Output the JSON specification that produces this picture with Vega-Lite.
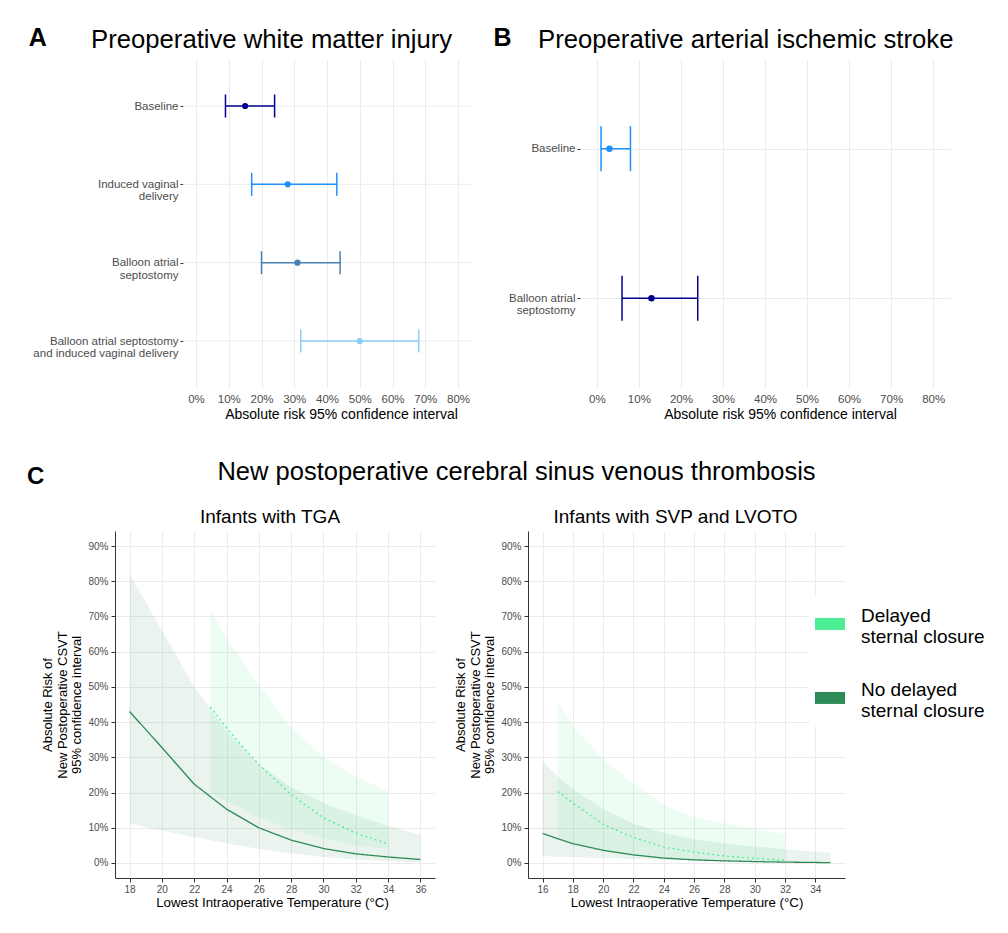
{
  "$schema": "https://vega.github.io/schema/vega-lite/v6.json",
  "background": "white",
  "padding": {"left": 26, "top": 26, "right": 5, "bottom": 5},
  "config": {
    "font": "Liberation Sans",
    "view": {"stroke": null},
    "title": {"font": "Liberation Sans", "color": "black", "fontWeight": "normal"},
    "axis": {"labelFont": "Liberation Sans", "titleFont": "Liberation Sans", "labelOverlap": false},
    "legend": {"labelFont": "Liberation Sans"}
  },
  "datasets": {
    "wmi": [
      {"cat": "Baseline", "est": 0.15, "lo": 0.09, "hi": 0.24},
      {"cat": "Induced vaginal\ndelivery", "est": 0.28, "lo": 0.17, "hi": 0.43},
      {"cat": "Balloon atrial\nseptostomy", "est": 0.31, "lo": 0.20, "hi": 0.44},
      {"cat": "Balloon atrial septostomy\nand induced vaginal delivery", "est": 0.50, "lo": 0.32, "hi": 0.68}
    ],
    "ais": [
      {"cat": "Baseline", "est": 0.03, "lo": 0.01, "hi": 0.08},
      {"cat": "Balloon atrial\nseptostomy", "est": 0.13, "lo": 0.06, "hi": 0.24}
    ],
    "csvt": [
      {"panel": "TGA", "group": "No delayed sternal closure", "temp": 18, "est": 0.43, "lo": 0.112, "hi": 0.82},
      {"panel": "TGA", "group": "No delayed sternal closure", "temp": 20, "est": 0.328, "lo": 0.092, "hi": 0.66},
      {"panel": "TGA", "group": "No delayed sternal closure", "temp": 22, "est": 0.224, "lo": 0.073, "hi": 0.50},
      {"panel": "TGA", "group": "No delayed sternal closure", "temp": 24, "est": 0.153, "lo": 0.056, "hi": 0.375},
      {"panel": "TGA", "group": "No delayed sternal closure", "temp": 26, "est": 0.10, "lo": 0.04, "hi": 0.28},
      {"panel": "TGA", "group": "No delayed sternal closure", "temp": 28, "est": 0.065, "lo": 0.027, "hi": 0.215},
      {"panel": "TGA", "group": "No delayed sternal closure", "temp": 30, "est": 0.041, "lo": 0.017, "hi": 0.17},
      {"panel": "TGA", "group": "No delayed sternal closure", "temp": 32, "est": 0.026, "lo": 0.01, "hi": 0.135},
      {"panel": "TGA", "group": "No delayed sternal closure", "temp": 34, "est": 0.017, "lo": 0.005, "hi": 0.105},
      {"panel": "TGA", "group": "No delayed sternal closure", "temp": 36, "est": 0.010, "lo": 0.002, "hi": 0.08},
      {"panel": "TGA", "group": "Delayed sternal closure", "temp": 23, "est": 0.443, "lo": 0.20, "hi": 0.717},
      {"panel": "TGA", "group": "Delayed sternal closure", "temp": 24, "est": 0.384, "lo": 0.175, "hi": 0.64},
      {"panel": "TGA", "group": "Delayed sternal closure", "temp": 25, "est": 0.33, "lo": 0.155, "hi": 0.575},
      {"panel": "TGA", "group": "Delayed sternal closure", "temp": 26, "est": 0.28, "lo": 0.13, "hi": 0.505},
      {"panel": "TGA", "group": "Delayed sternal closure", "temp": 28, "est": 0.194, "lo": 0.095, "hi": 0.385},
      {"panel": "TGA", "group": "Delayed sternal closure", "temp": 30, "est": 0.128, "lo": 0.07, "hi": 0.30},
      {"panel": "TGA", "group": "Delayed sternal closure", "temp": 32, "est": 0.085, "lo": 0.05, "hi": 0.245},
      {"panel": "TGA", "group": "Delayed sternal closure", "temp": 34, "est": 0.054, "lo": 0.04, "hi": 0.205},
      {"panel": "SVP", "group": "No delayed sternal closure", "temp": 16, "est": 0.084, "lo": 0.02, "hi": 0.29},
      {"panel": "SVP", "group": "No delayed sternal closure", "temp": 17, "est": 0.069, "lo": 0.018, "hi": 0.245},
      {"panel": "SVP", "group": "No delayed sternal closure", "temp": 18, "est": 0.055, "lo": 0.017, "hi": 0.21},
      {"panel": "SVP", "group": "No delayed sternal closure", "temp": 20, "est": 0.036, "lo": 0.014, "hi": 0.153},
      {"panel": "SVP", "group": "No delayed sternal closure", "temp": 22, "est": 0.023, "lo": 0.011, "hi": 0.112},
      {"panel": "SVP", "group": "No delayed sternal closure", "temp": 24, "est": 0.014, "lo": 0.009, "hi": 0.085},
      {"panel": "SVP", "group": "No delayed sternal closure", "temp": 26, "est": 0.009, "lo": 0.007, "hi": 0.068},
      {"panel": "SVP", "group": "No delayed sternal closure", "temp": 28, "est": 0.006, "lo": 0.005, "hi": 0.055},
      {"panel": "SVP", "group": "No delayed sternal closure", "temp": 30, "est": 0.004, "lo": 0.0035, "hi": 0.047},
      {"panel": "SVP", "group": "No delayed sternal closure", "temp": 32, "est": 0.0025, "lo": 0.0025, "hi": 0.039},
      {"panel": "SVP", "group": "No delayed sternal closure", "temp": 34, "est": 0.0015, "lo": 0.0015, "hi": 0.032},
      {"panel": "SVP", "group": "No delayed sternal closure", "temp": 35, "est": 0.001, "lo": 0.001, "hi": 0.029},
      {"panel": "SVP", "group": "Delayed sternal closure", "temp": 17, "est": 0.203, "lo": 0.07, "hi": 0.46},
      {"panel": "SVP", "group": "Delayed sternal closure", "temp": 18, "est": 0.17, "lo": 0.055, "hi": 0.39},
      {"panel": "SVP", "group": "Delayed sternal closure", "temp": 20, "est": 0.11, "lo": 0.035, "hi": 0.295},
      {"panel": "SVP", "group": "Delayed sternal closure", "temp": 22, "est": 0.072, "lo": 0.022, "hi": 0.225},
      {"panel": "SVP", "group": "Delayed sternal closure", "temp": 24, "est": 0.045, "lo": 0.013, "hi": 0.165},
      {"panel": "SVP", "group": "Delayed sternal closure", "temp": 26, "est": 0.031, "lo": 0.008, "hi": 0.13},
      {"panel": "SVP", "group": "Delayed sternal closure", "temp": 28, "est": 0.02, "lo": 0.005, "hi": 0.112},
      {"panel": "SVP", "group": "Delayed sternal closure", "temp": 30, "est": 0.013, "lo": 0.003, "hi": 0.096},
      {"panel": "SVP", "group": "Delayed sternal closure", "temp": 32, "est": 0.008, "lo": 0.002, "hi": 0.081}
    ]
  },
  "resolve": {"scale": {"color": "independent"}, "legend": {"color": "independent"}},
  "spacing": 37,
  "vconcat": [
    {
      "hconcat": [
        {
          "title": {"text": "A", "anchor": "start", "frame": "bounds", "fontSize": 25, "fontWeight": "bold", "dx": -4, "dy": 28},
          "vconcat": [
            {
              "width": 357,
              "height": 329,
              "title": {"text": "Preoperative white matter injury", "anchor": "start", "frame": "group", "dx": -24, "fontSize": 25.7, "offset": 5},
              "data": {"name": "wmi"},
              "encoding": {
                "y": {"field": "cat", "type": "nominal", "sort": null, "scale": {"type": "point", "padding": 0.6},
                  "axis": {"title": null, "grid": false, "offset": -68, "domain": false, "ticks": true, "tickSize": 3, "tickColor": "#333333", "labelColor": "#4d4d4d", "labelFontSize": 11.5, "labelPadding": 2, "labelLineHeight": 12.5, "labelExpr": "split(datum.label, '\\n')"}}
              },
              "layer": [
                {"mark": {"type": "rule", "color": "#EBEBEB", "strokeWidth": 1},
                  "encoding": {
                    "x": {"datum": -0.04, "type": "quantitative", "scale": {"domain": [-0.2473, 0.8427], "nice": false, "zero": false},
                      "axis": {"values": [0, 0.1, 0.2, 0.3, 0.4, 0.5, 0.6, 0.7, 0.8], "tickCount": 30, "format": ".0%", "grid": true, "gridColor": "#EBEBEB", "domain": false, "ticks": false, "labelColor": "#4d4d4d", "labelFontSize": 11.5, "labelPadding": 5, "title": "Absolute risk  95% confidence interval", "titleX": 226, "titleFontSize": 14, "titleFontWeight": "normal", "titleColor": "black", "titlePadding": 3}},
                    "x2": {"datum": 0.84}
                  }},
                {"mark": {"type": "rule", "strokeWidth": 1.5},
                  "encoding": {
                    "x": {"field": "lo", "type": "quantitative"},
                    "x2": {"field": "hi"},
                    "color": {"field": "cat", "type": "nominal", "legend": null,
                      "scale": {"domain": ["Baseline", "Induced vaginal\ndelivery", "Balloon atrial\nseptostomy", "Balloon atrial septostomy\nand induced vaginal delivery"], "range": ["#00008B", "#1E90FF", "#4682B4", "#87CEFA"]}}
                  }},
                {"mark": {"type": "tick", "orient": "vertical", "size": 23, "thickness": 1.5, "opacity": 1},
                  "encoding": {"x": {"field": "lo", "type": "quantitative"}, "color": {"field": "cat", "type": "nominal", "legend": null}}},
                {"mark": {"type": "tick", "orient": "vertical", "size": 23, "thickness": 1.5, "opacity": 1},
                  "encoding": {"x": {"field": "hi", "type": "quantitative"}, "color": {"field": "cat", "type": "nominal", "legend": null}}},
                {"mark": {"type": "circle", "size": 38, "opacity": 1},
                  "encoding": {"x": {"field": "est", "type": "quantitative"}, "color": {"field": "cat", "type": "nominal", "legend": null}}}
              ]
            }
          ]
        },
        {
          "title": {"text": "B", "anchor": "start", "frame": "bounds", "fontSize": 25, "fontWeight": "bold", "dx": -15, "dy": 28},
          "vconcat": [
            {
              "width": 370,
              "height": 329,
              "title": {"text": "Preoperative arterial ischemic stroke", "anchor": "start", "frame": "group", "dx": -42, "fontSize": 25.7, "offset": 5},
              "data": {"name": "ais"},
              "encoding": {
                "y": {"field": "cat", "type": "nominal", "sort": null, "scale": {"type": "point", "padding": 0.6},
                  "axis": {"title": null, "grid": true, "gridColor": "#EBEBEB", "domain": false, "ticks": true, "tickSize": 3, "tickColor": "#333333", "labelColor": "#4d4d4d", "labelFontSize": 11.5, "labelPadding": 2, "labelLineHeight": 12.5, "labelExpr": "split(datum.label, '\\n')"}},
                "color": {"field": "cat", "type": "nominal", "legend": null,
                  "scale": {"domain": ["Baseline", "Balloon atrial\nseptostomy"], "range": ["#1E90FF", "#00008B"]}}
              },
              "layer": [
                {"mark": {"type": "rule", "strokeWidth": 1.5},
                  "encoding": {
                    "x": {"field": "lo", "type": "quantitative", "scale": {"domain": [-0.04, 0.84], "nice": false, "zero": false},
                      "axis": {"values": [0, 0.1, 0.2, 0.3, 0.4, 0.5, 0.6, 0.7, 0.8], "tickCount": 30, "format": ".0%", "grid": true, "gridColor": "#EBEBEB", "domain": false, "ticks": false, "labelColor": "#4d4d4d", "labelFontSize": 11.5, "labelPadding": 5, "title": "Absolute risk  95% confidence interval", "titleX": 200, "titleFontSize": 14, "titleFontWeight": "normal", "titleColor": "black", "titlePadding": 3}},
                    "x2": {"field": "hi"}
                  }},
                {"mark": {"type": "tick", "orient": "vertical", "size": 45, "thickness": 1.5, "opacity": 1},
                  "encoding": {"x": {"field": "lo", "type": "quantitative"}}},
                {"mark": {"type": "tick", "orient": "vertical", "size": 45, "thickness": 1.5, "opacity": 1},
                  "encoding": {"x": {"field": "hi", "type": "quantitative"}}},
                {"mark": {"type": "circle", "size": 42, "opacity": 1},
                  "encoding": {"x": {"field": "est", "type": "quantitative"}}}
              ]
            }
          ]
        }
      ],
      "spacing": 21,
      "resolve": {"scale": {"color": "independent"}, "legend": {"color": "independent"}}
    },
    {
      "title": {"text": "C", "anchor": "start", "frame": "bounds", "fontSize": 24, "fontWeight": "bold", "dx": -15, "dy": 33},
      "vconcat": [
        {
          "title": {"text": "New postoperative cerebral sinus venous thrombosis", "anchor": "middle", "fontSize": 25.5, "offset": 23},
          "spacing": 19,
          "resolve": {"scale": {"fill": "independent", "stroke": "independent", "strokeDash": "independent"}, "legend": {"fill": "independent"}},
          "hconcat": [
            {
              "width": 320,
              "height": 347,
              "title": {"text": "Infants with TGA", "fontSize": 19, "anchor": "middle", "frame": "group", "offset": 4, "dx": -5},
              "data": {"name": "csvt"},
              "transform": [{"filter": "datum.panel == 'TGA'"}],
              "encoding": {
                "x": {"field": "temp", "type": "quantitative", "scale": {"domain": [17.1, 36.9], "nice": false, "zero": false},
                  "axis": {"values": [18, 20, 22, 24, 26, 28, 30, 32, 34, 36], "format": "d", "tickCount": 30, "grid": true, "gridColor": "#EBEBEB", "domain": true, "domainColor": "#333333", "tickColor": "#333333", "tickSize": 4, "labelColor": "#4d4d4d", "labelFontSize": 10, "labelPadding": 2, "title": "Lowest Intraoperative Temperature (°C)", "titleX": 157, "titleY": 24, "titleBaseline": "middle", "titleFontSize": 13.3, "titleFontWeight": "normal", "titleColor": "black"}}
              },
              "layer": [
                {"mark": {"type": "area", "fillOpacity": 0.1},
                  "encoding": {
                    "y": {"field": "lo", "type": "quantitative", "scale": {"domain": [-0.0426, 0.9426], "nice": false, "zero": false},
                      "axis": {"values": [0, 0.1, 0.2, 0.3, 0.4, 0.5, 0.6, 0.7, 0.8, 0.9], "tickCount": 30, "format": ".0%", "grid": true, "gridColor": "#EBEBEB", "domain": true, "domainColor": "#333333", "tickColor": "#333333", "tickSize": 4, "labelColor": "#4d4d4d", "labelFontSize": 10, "labelPadding": 3, "title": ["Absolute Risk of", "New Postoperative CSVT", "95% confidence interval"], "titleFontSize": 13, "titleLineHeight": 14.5, "titleFontWeight": "normal", "titleColor": "black", "titlePadding": 4}},
                    "y2": {"field": "hi"},
                    "fill": {"field": "group", "type": "nominal", "legend": null, "scale": {"domain": ["Delayed sternal closure", "No delayed sternal closure"], "range": ["#4EEE94", "#2E8B57"]}}
                  }},
                {"mark": {"type": "line", "strokeWidth": 1.3},
                  "encoding": {
                    "y": {"field": "est", "type": "quantitative"},
                    "stroke": {"field": "group", "type": "nominal", "legend": null, "scale": {"domain": ["Delayed sternal closure", "No delayed sternal closure"], "range": ["#4EEE94", "#2E8B57"]}},
                    "strokeDash": {"field": "group", "type": "nominal", "legend": null, "scale": {"domain": ["Delayed sternal closure", "No delayed sternal closure"], "range": [[2, 3], [1, 0]]}}
                  }}
              ]
            },
            {
              "width": 317,
              "height": 347,
              "title": {"text": "Infants with SVP and LVOTO", "fontSize": 19, "anchor": "middle", "frame": "group", "offset": 4, "dx": -11},
              "data": {"name": "csvt"},
              "transform": [{"filter": "datum.panel == 'SVP'"}],
              "encoding": {
                "x": {"field": "temp", "type": "quantitative", "scale": {"domain": [15.04, 35.96], "nice": false, "zero": false},
                  "axis": {"values": [16, 18, 20, 22, 24, 26, 28, 30, 32, 34], "format": "d", "tickCount": 30, "grid": true, "gridColor": "#EBEBEB", "domain": true, "domainColor": "#333333", "tickColor": "#333333", "tickSize": 4, "labelColor": "#4d4d4d", "labelFontSize": 10, "labelPadding": 2, "title": "Lowest Intraoperative Temperature (°C)", "titleY": 24, "titleBaseline": "middle", "titleFontSize": 13.3, "titleFontWeight": "normal", "titleColor": "black"}}
              },
              "layer": [
                {"mark": {"type": "area", "fillOpacity": 0.1},
                  "encoding": {
                    "y": {"field": "lo", "type": "quantitative", "scale": {"domain": [-0.0426, 0.9426], "nice": false, "zero": false},
                      "axis": {"values": [0, 0.1, 0.2, 0.3, 0.4, 0.5, 0.6, 0.7, 0.8, 0.9], "tickCount": 30, "format": ".0%", "grid": true, "gridColor": "#EBEBEB", "domain": true, "domainColor": "#333333", "tickColor": "#333333", "tickSize": 4, "labelColor": "#4d4d4d", "labelFontSize": 10, "labelPadding": 3, "title": ["Absolute Risk of", "New Postoperative CSVT", "95% confidence interval"], "titleFontSize": 13, "titleLineHeight": 14.5, "titleFontWeight": "normal", "titleColor": "black", "titlePadding": 4}},
                    "y2": {"field": "hi"},
                    "fill": {"field": "group", "type": "nominal", "scale": {"domain": ["Delayed sternal closure", "No delayed sternal closure"], "range": ["#4EEE94", "#2E8B57"]},
                      "legend": {"orient": "none", "legendX": 281, "legendY": 64, "title": null, "symbolType": "M-1,0.13H1V0.93H-1Z", "symbolSize": 900, "symbolOpacity": 1, "symbolStrokeWidth": 0, "labelFontSize": 19, "labelColor": "black", "labelLimit": 300, "labelOffset": 16, "rowPadding": 28, "padding": 6, "fillColor": "white", "labelExpr": "datum.label == 'Delayed sternal closure' ? ['Delayed', 'sternal closure'] : ['No delayed', 'sternal closure']"}}
                  }},
                {"mark": {"type": "line", "strokeWidth": 1.3},
                  "encoding": {
                    "y": {"field": "est", "type": "quantitative"},
                    "stroke": {"field": "group", "type": "nominal", "legend": null, "scale": {"domain": ["Delayed sternal closure", "No delayed sternal closure"], "range": ["#4EEE94", "#2E8B57"]}},
                    "strokeDash": {"field": "group", "type": "nominal", "legend": null, "scale": {"domain": ["Delayed sternal closure", "No delayed sternal closure"], "range": [[2, 3], [1, 0]]}}
                  }}
              ]
            }
          ]
        }
      ]
    }
  ]
}
